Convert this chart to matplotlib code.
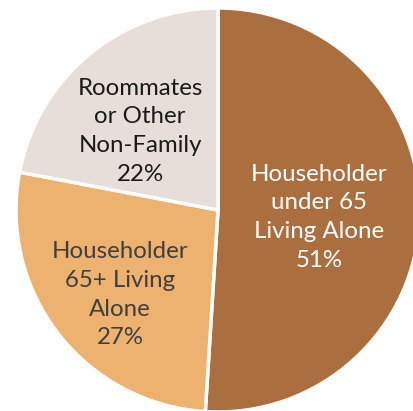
import matplotlib
matplotlib.use("Agg")
import matplotlib.pyplot as plt
import numpy as np

categories = ["Householder\nunder 65\nLiving Alone", "Householder\n65+ Living\nAlone", "Roommates\nor Other\nNon-Family"]
values = [51, 27, 22]
colors = ["#AB6F3F", "#EDB26F", "#E8DED9"]
text_colors = ["white", "#3F3F3F", "#1A1A1A"]

W, H = 413, 411
fig = plt.figure(figsize=(W / 100, H / 100), dpi=100)
cx, cy, r = 218, 210, 202
ax = fig.add_axes([(cx - r) / W, (H - cy - r) / H, 2 * r / W, 2 * r / H])
wedges, _ = ax.pie(values, colors=colors, startangle=90, counterclock=False,
                   radius=1, wedgeprops=dict(edgecolor="white", linewidth=2.5))
ax.set_xlim(-1, 1)
ax.set_ylim(-1, 1)
ax.set_aspect("equal")
ax.axis("off")

label_pos = [(0.50, -0.035), (-0.485, -0.42), (-0.385, 0.39)]
for cat, v, (x, y), tc in zip(categories, values, label_pos, text_colors):
    ax.text(x, y, f"{cat}\n{v}%", ha="center", va="center", multialignment="center",
            fontsize=17.3, family="Lato", color=tc, linespacing=1.45)

fig.savefig("out.png", dpi=100)
